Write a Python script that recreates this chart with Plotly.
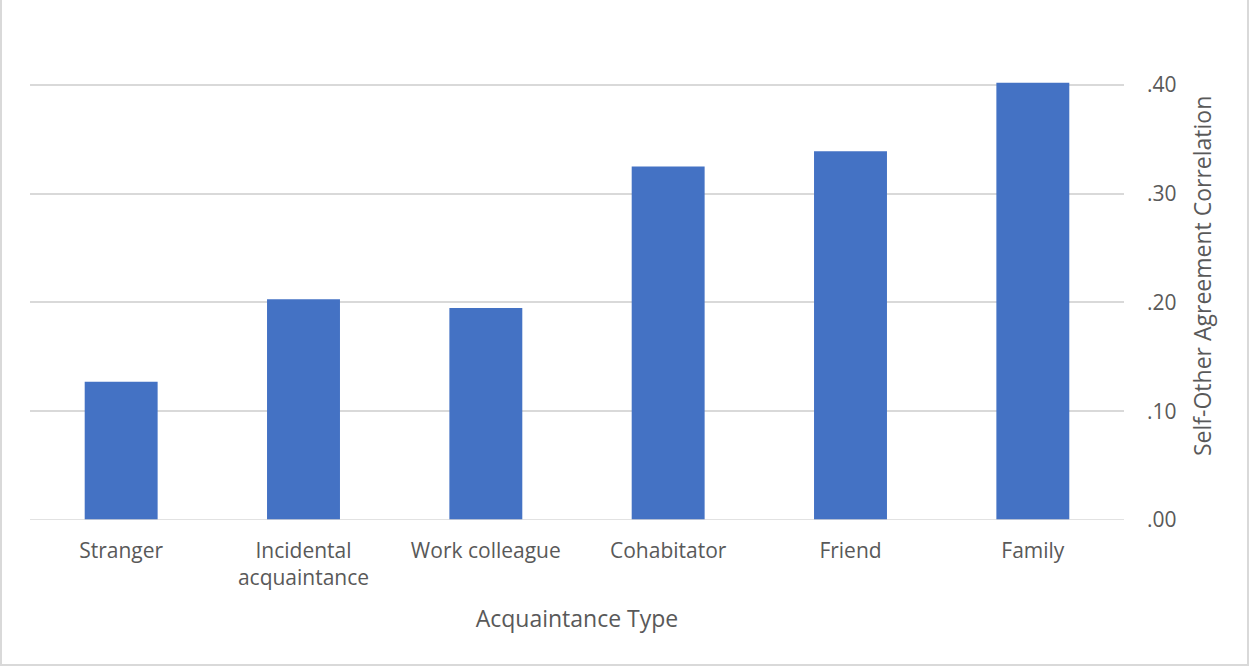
import plotly.graph_objects as go

categories = ["Stranger", "Incidental<br>acquaintance", "Work colleague", "Cohabitator", "Friend", "Family"]
values = [0.127, 0.203, 0.195, 0.325, 0.339, 0.402]
tick_vals = [0.0, 0.1, 0.2, 0.3, 0.4]
tick_text = [".00", ".10", ".20", ".30", ".40"]

W, H = 1249, 666
L, R, T, B = 30, 125, 74, 146
pw, ph = W - L - R, H - T - B

fig = go.Figure(go.Bar(x=categories, y=values, marker=dict(color="#4472C4", line=dict(width=0)), width=0.4))

font = "'Open Sans', sans-serif"
fig.update_layout(
    width=W, height=H,
    margin=dict(l=L, r=R, t=T, b=B),
    paper_bgcolor="white", plot_bgcolor="white",
    showlegend=False,
    font=dict(family=font, color="#595959"),
    xaxis=dict(
        showgrid=False, showline=False, ticks="",
        tickfont=dict(size=21, color="#595959"),
        ticklabelstandoff=16,
        title=dict(text="Acquaintance Type", font=dict(size=23, color="#595959"), standoff=20),
    ),
    yaxis=dict(
        side="right", range=[0, 0.41],
        tickvals=tick_vals, ticktext=tick_text,
        showgrid=True, gridcolor="#D9D9D9", gridwidth=1.5,
        zeroline=False, showline=False, ticks="",
        tickfont=dict(size=21, color="#595959"),
        ticklabelstandoff=22,
    ),
)
fig.add_annotation(text="Self-Other Agreement Correlation", textangle=-90,
                   xref="paper", yref="paper",
                   x=(1202 - L) / pw, y=(H - B - 276) / ph,
                   xanchor="center", yanchor="middle", showarrow=False,
                   font=dict(size=23, color="#595959"))
fig.add_hline(y=0, line=dict(color="#D9D9D9", width=1.5))
fig.add_shape(type="rect", xref="paper", yref="paper",
              x0=(1 - L) / pw, x1=(W - 1 - L) / pw,
              y0=-(B - 1) / ph, y1=(H - T - 1) / ph,
              line=dict(color="#D9D9D9", width=2), fillcolor="rgba(0,0,0,0)", layer="below")
fig.write_html("out.html")
